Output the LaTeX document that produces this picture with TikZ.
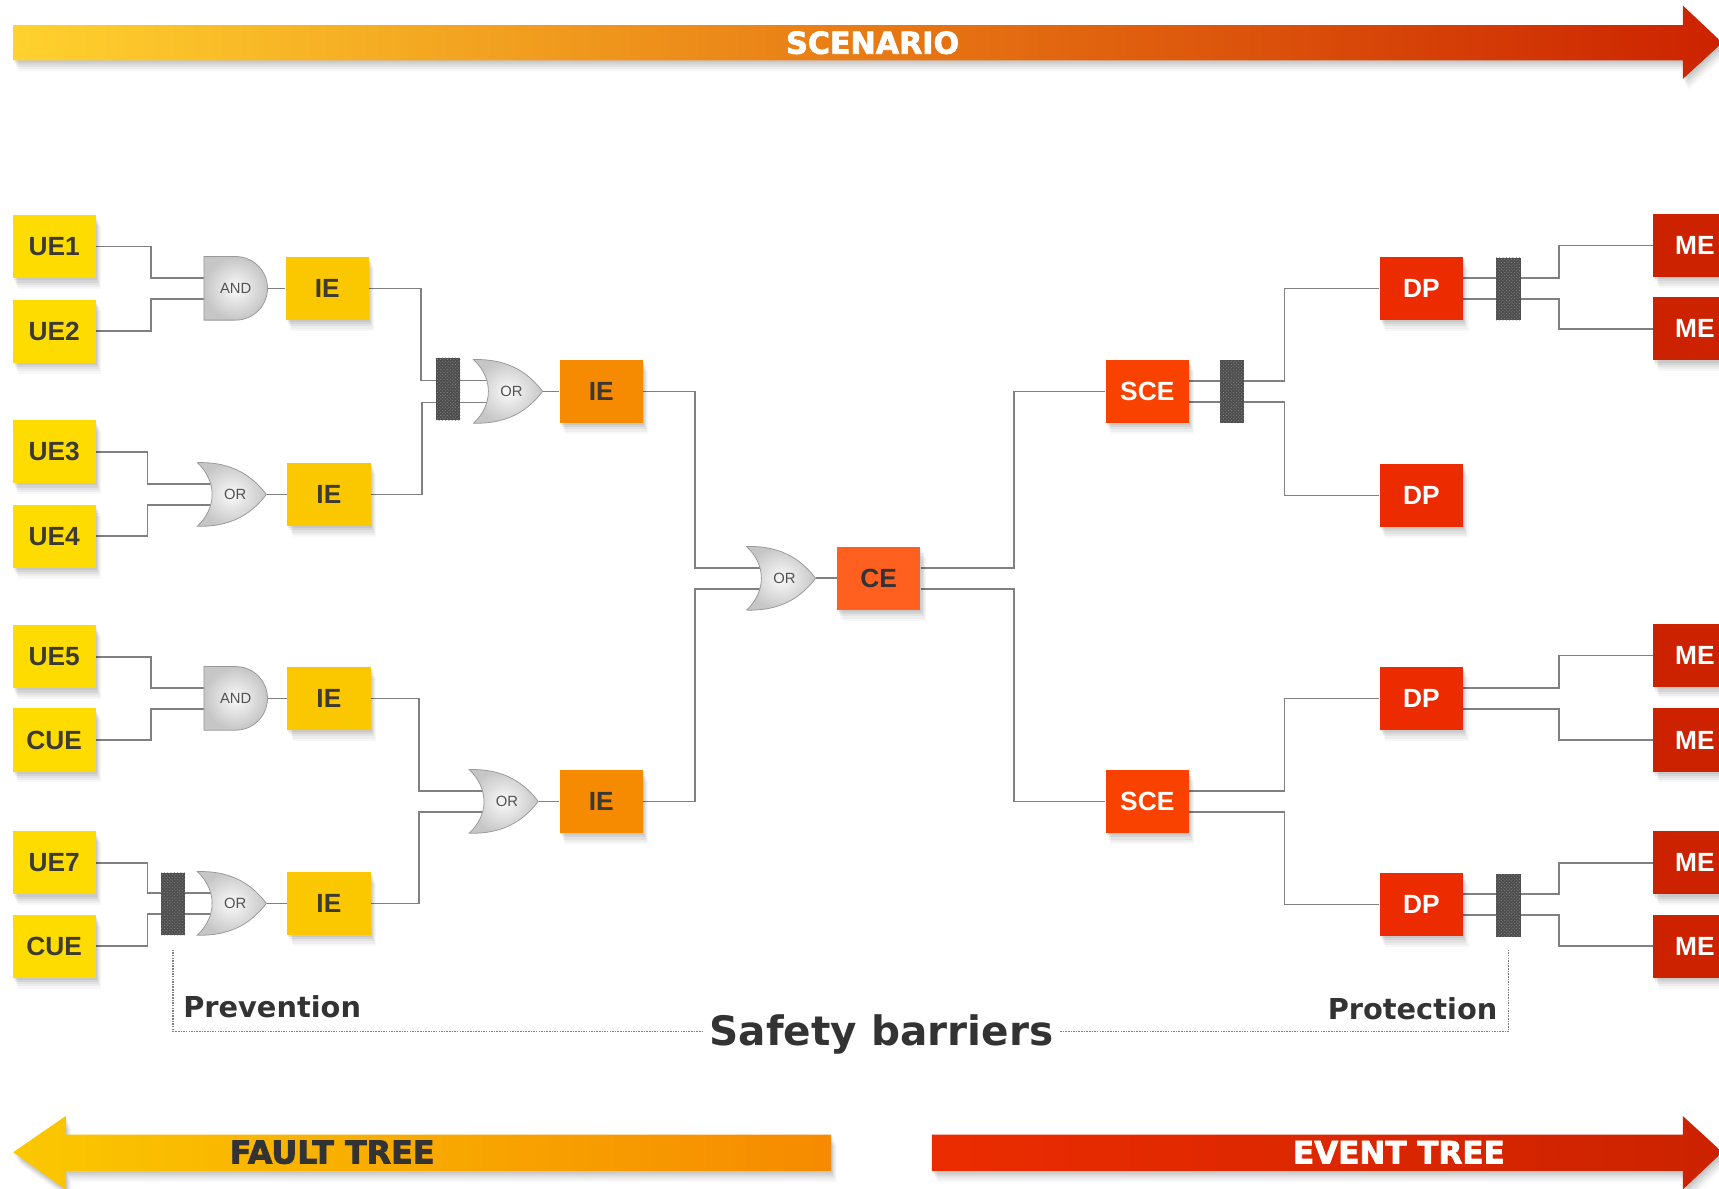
\documentclass[tikz,border=0pt]{standalone}
\usepackage{fontspec}
\setmainfont{Liberation Sans}
\newfontfamily\bannerfont{DejaVu Sans}
\newfontfamily\heavyfont[FakeBold=2.5]{DejaVu Sans Bold}
\usetikzlibrary{shapes, arrows, shadows, patterns, backgrounds}

\definecolor{uecol}{HTML}{FFDC00}
\definecolor{iecol}{HTML}{FBC800}
\definecolor{ieorange}{HTML}{F68A00}
\definecolor{cecol}{HTML}{FF6020}
\definecolor{scecol}{HTML}{FA4200}
\definecolor{dpcol}{HTML}{EC2C00}
\definecolor{mecol}{HTML}{CC2200}
\definecolor{wirecol}{HTML}{808080}
\definecolor{inkcol}{HTML}{333333}
\definecolor{scenstart}{HTML}{FFD22E}
\definecolor{scenmid}{HTML}{E87A14}

% OR gate: name, x, y, text
\newcommand{\orgate}[4]{
	\shade[gateshade] (#2-32,#3-29) .. controls (#2+3,#3-30) and (#2+20,#3-14) .. (#2+31,#3)
		.. controls (#2+20,#3+14) and (#2+3,#3+30) .. (#2-32,#3+29)
		.. controls (#2-14,#3+12) and (#2-14,#3-12) .. cycle;
	\node[gatelabel, minimum width=63pt] (#1) at (#2,#3) {\hspace{5pt}#4};
}
% AND gate: name, x, y, text
\newcommand{\andgate}[4]{
	\shade[gateshade] (#2-29,#3-29) -- (#2,#3-29) arc (90:-90:29pt) -- (#2-29,#3+29) -- cycle;
	\node[gatelabel, minimum width=58pt] (#1) at (#2,#3) {#4};
}

\begin{document}
\begin{tikzpicture}[x=1pt, y=-1pt, >=latex, font=\footnotesize,
			softshadow/.style={
				drop shadow={shadow xshift=1pt, shadow yshift=-2pt, opacity=.06, fill=black},
				drop shadow={shadow xshift=2pt, shadow yshift=-4pt, opacity=.06, fill=black},
				drop shadow={shadow xshift=3pt, shadow yshift=-6pt, opacity=.05, fill=black},
				drop shadow={shadow xshift=4pt, shadow yshift=-8pt, opacity=.04, fill=black},
				drop shadow={shadow xshift=5pt, shadow yshift=-10pt, opacity=.03, fill=black}},
			evbox/.style={rectangle, minimum width=76pt, minimum height=57.5pt, inner sep=0pt, softshadow,
				font=\fontsize{24}{24}\selectfont\bfseries},
			uebox/.style={evbox, fill=uecol, text=inkcol!95!uecol},
			iebox/.style={evbox, fill=iecol, text=inkcol!95!iecol},
			ieobox/.style={evbox, fill=ieorange, text=inkcol!95!ieorange},
			cebox/.style={evbox, fill=cecol, text=inkcol},
			scebox/.style={evbox, fill=scecol, text=white},
			dpbox/.style={evbox, fill=dpcol, text=white},
			mebox/.style={evbox, fill=mecol, text=white},
			gateshade/.style={draw=gray!80, line width=.7pt, inner color=gray!4, outer color=gray!45},
			gatelabel/.style={rectangle, minimum height=58pt, inner sep=0pt, text=inkcol!85,
				font=\fontsize{13.5}{14}\selectfont},
			barrier/.style={rectangle, minimum width=22pt, minimum height=57pt, inner sep=0pt,
				preaction={fill=black!70}, pattern=crosshatch dots, pattern color=gray!90},
			wire/.style={draw=wirecol, line width=1.5pt},
			barline/.style={draw=gray, line width=1.4pt, densely dotted},
			bannertxt/.style={inner sep=0pt, font=\fontsize{#1}{30}\heavyfont}]
	\useasboundingbox (0,0) rectangle (1568,1084);
	\clip (0,0) rectangle (1568,1084);
	% Top and bottom arrows
	\path[softshadow, left color=scenstart, right color=mecol, middle color=scenmid]
		(12,23) -- (1535,23) -- (1535,5) -- (1571,39) -- (1535,72) -- (1535,55) -- (12,55) -- cycle;
	\path[softshadow, left color=iecol, right color=ieorange]
		(758,1035) -- (60,1035) -- (60,1018) -- (12,1051) -- (60,1085) -- (60,1068) -- (758,1068) -- cycle;
	\path[softshadow, left color=dpcol, right color=mecol]
		(850,1035) -- (1535,1035) -- (1535,1018) -- (1571,1051) -- (1535,1085) -- (1535,1068) -- (850,1068) -- cycle;
	\node[bannertxt=27.5, text=white] (scenario) at (796,39) {SCENARIO};
	\node[bannertxt=29, text=inkcol] (faulttree) at (303,1051) {FAULT TREE};
	\node[bannertxt=28.3, text=white] (eventtree) at (1276,1051) {EVENT TREE};
	% Initial events
	\foreach \n/\y/\t in {ue1/225/UE1, ue2/302/UE2, ue3/412/UE3, ue4/489/UE4, ue5/599/UE5, cue1/675/CUE, ue7/787/UE7, cue2/863/CUE}
		\node[uebox] (\n) at (49.5,\y) {\t};
	% Intermediate events
	\foreach \n/\x/\y in {ie1/298.5/263, ie2/300/451, ie3/300/637, ie4/300/824}
		\node[iebox] (\n) at (\x,\y) {IE};
	\foreach \n/\y in {ie5/357, ie6/731}
		\node[ieobox] (\n) at (548.5,\y) {IE};
	\node[cebox] (ce) at (801.5,527.5) {CE};
	% Event tree side
	\foreach \n/\y in {sce1/357, sce2/731}
		\node[scebox] (\n) at (1046.5,\y) {SCE};
	\foreach \n/\y in {dp1/263, dp2/452, dp3/637, dp4/825}
		\node[dpbox] (\n) at (1296.5,\y) {DP};
	\foreach \n/\y in {me1/224, me2/300, me3/598, me4/675, me5/787, me6/863}
		\node[mebox] (\n) at (1546,\y) {ME};
	% Gates
	\andgate{g1}{215}{263}{AND}
	\andgate{g2}{215}{637}{AND}
	\orgate{g3}{212}{451}{OR}
	\orgate{g4}{212}{824}{OR}
	\orgate{g5}{464}{357}{OR}
	\orgate{g6}{460}{731}{OR}
	\orgate{g7}{713}{527.5}{OR}
	% Barriers
	\foreach \n/\x/\y in {b1/409/355, b2/158/824.5, b3/1124/357, b4/1376/263.5, b5/1376/826}
		\node[barrier] (\n) at (\x,\y) {};
	% Labels
	\node[inner sep=6pt, text=inkcol, font=\fontsize{37}{38}\bannerfont\bfseries] (safety) at (804,944) {Safety barriers};
	\node[anchor=west, inner sep=0pt, text=inkcol, font=\fontsize{26.3}{27}\bannerfont\bfseries] (prevention) at (167,918) {Prevention};
	\node[anchor=east, inner sep=0pt, text=inkcol, font=\fontsize{26.3}{27}\bannerfont\bfseries] (protection) at (1366,920) {Protection};
	\draw[barline] ([yshift=-13pt]b2.south) |- ([yshift=3pt]safety.west);
	\draw[barline] ([yshift=3pt]safety.east) -| ([yshift=-11pt]b5.south);
	% Connectors
	\begin{scope}[on background layer]
		\draw[wire] (ue1.east) -- ++(50,0) |- ([yshift=9.5pt]g1.west);
		\draw[wire] (ue2.east) -- ++(50,0) |- ([yshift=-9.5pt]g1.west);
		\draw[wire] (ue3.east) -- ++(47,0) |- ([shift={(18pt,9.5pt)}]g3.west);
		\draw[wire] (ue4.east) -- ++(47,0) |- ([shift={(18pt,-9.5pt)}]g3.west);
		\draw[wire] (ue5.east) -- ++(50,0) |- ([yshift=9.5pt]g2.west);
		\draw[wire] (cue1.east) -- ++(50,0) |- ([yshift=-9.5pt]g2.west);
		\draw[wire] (ue7.east) -- ++(47,0) |- ([shift={(18pt,9.5pt)}]g4.west);
		\draw[wire] (cue2.east) -- ++(47,0) |- ([shift={(18pt,-9.5pt)}]g4.west);
		\draw[wire] (g1.east) -- (ie1.west);
		\draw[wire] (g2.east) -- (ie3.west);
		\draw[wire] (g3.east) -- (ie2.west);
		\draw[wire] (g4.east) -- (ie4.west);
		\draw[wire] (ie1.east) -- ++(47.5,0) |- ([shift={(18pt,10pt)}]g5.west);
		\draw[wire] (ie2.east) -- ++(47,0) |- ([shift={(18pt,-10pt)}]g5.west);
		\draw[wire] (ie3.east) -- ++(44,0) |- ([shift={(18pt,9.5pt)}]g6.west);
		\draw[wire] (ie4.east) -- ++(44,0) |- ([shift={(18pt,-9.5pt)}]g6.west);
		\draw[wire] (g5.east) -- (ie5.west);
		\draw[wire] (g6.east) -- (ie6.west);
		\draw[wire] (ie5.east) -- ++(47,0) |- ([shift={(18pt,9.5pt)}]g7.west);
		\draw[wire] (ie6.east) -- ++(47,0) |- ([shift={(18pt,-9.5pt)}]g7.west);
		\draw[wire] (g7.east) -- (ce.west);
		\draw[wire] ([yshift=9.5pt]ce.east) -- ++(85,0) |- (sce1.west);
		\draw[wire] ([yshift=-9.5pt]ce.east) -- ++(85,0) |- (sce2.west);
		\draw[wire] ([yshift=9.5pt]sce1.east) -- ++(87,0) |- (dp1.west);
		\draw[wire] ([yshift=-9.5pt]sce1.east) -- ++(87,0) |- (dp2.west);
		\draw[wire] ([yshift=9.5pt]sce2.east) -- ++(87,0) |- (dp3.west);
		\draw[wire] ([yshift=-9.5pt]sce2.east) -- ++(87,0) |- (dp4.west);
		\draw[wire] ([yshift=9.5pt]dp1.east) -- ++(87.5,0) |- (me1.west);
		\draw[wire] ([yshift=-9.5pt]dp1.east) -- ++(87.5,0) |- (me2.west);
		\draw[wire] ([yshift=9.5pt]dp3.east) -- ++(87.5,0) |- (me3.west);
		\draw[wire] ([yshift=-9.5pt]dp3.east) -- ++(87.5,0) |- (me4.west);
		\draw[wire] ([yshift=9.5pt]dp4.east) -- ++(87.5,0) |- (me5.west);
		\draw[wire] ([yshift=-9.5pt]dp4.east) -- ++(87.5,0) |- (me6.west);
	\end{scope}
\end{tikzpicture}
\end{document}
